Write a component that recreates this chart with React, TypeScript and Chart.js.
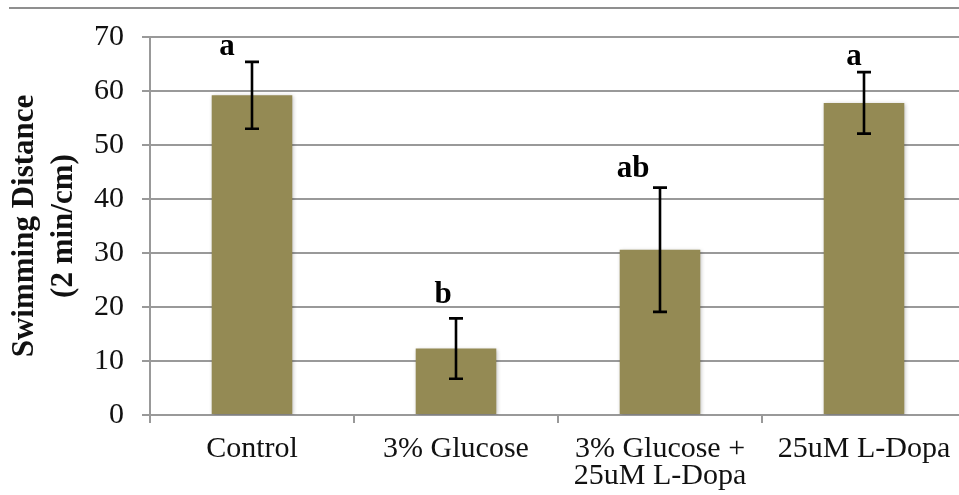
import React, { useEffect, useRef } from "react";
import { Chart, registerables } from "chart.js";

Chart.register(...registerables);

// ---- data ----
const categories = ["Control", "3% Glucose", "3% Glucose +\n25uM L-Dopa", "25uM L-Dopa"];
const means = [59.2, 12.3, 30.6, 57.8];
const errors = [6.2, 5.6, 11.5, 5.7];
const letters = ["a", "b", "ab", "a"];
const yMin = 0;
const yMax = 70;
const yStep = 10;
const yTitle = ["Swimming Distance", "(2 min/cm)"];

// ---- label placement (pixels) ----
const letterDx = [-25, -13, -27, -10];
const letterGap = [7, 15, 11, 7];

const FONT = "'Liberation Serif', 'Times New Roman', serif";
const GRID = "#999999";
const BAR = "#948A54";

const overlayPlugin = {
  id: "overlay",
  beforeDraw(chart: any) {
    const ctx = chart.ctx;
    ctx.save();
    ctx.fillStyle = "#8f8f8f";
    ctx.fillRect(9, 7, chart.width, 2);
    ctx.restore();
  },
  beforeDatasetsDraw(chart: any) {
    const ctx = chart.ctx;
    ctx.save();
    ctx.shadowColor = "rgba(0,0,0,0.28)";
    ctx.shadowBlur = 4;
    ctx.shadowOffsetX = 1;
    ctx.shadowOffsetY = 1;
  },
  afterDatasetsDraw(chart: any) {
    const ctx = chart.ctx;
    ctx.restore();
    const meta = chart.getDatasetMeta(0);
    const ys = chart.scales.y;
    ctx.save();
    ctx.strokeStyle = "#000";
    ctx.lineWidth = 2.6;
    ctx.fillStyle = "#000";
    ctx.font = `bold 31px ${FONT}`;
    ctx.textAlign = "center";
    ctx.textBaseline = "alphabetic";
    meta.data.forEach((bar: any, i: number) => {
      const x = bar.x;
      const top = ys.getPixelForValue(means[i] + errors[i]);
      const bot = ys.getPixelForValue(means[i] - errors[i]);
      ctx.beginPath();
      ctx.moveTo(x, top);
      ctx.lineTo(x, bot);
      ctx.moveTo(x - 7, top);
      ctx.lineTo(x + 7, top);
      ctx.moveTo(x - 7, bot);
      ctx.lineTo(x + 7, bot);
      ctx.stroke();
      ctx.fillText(letters[i], x + letterDx[i], top - letterGap[i]);
    });
    ctx.restore();
  },
};

export default function App() {
  const ref = useRef<HTMLCanvasElement>(null);

  useEffect(() => {
    if (!ref.current) return;
    const chart = new Chart(ref.current, {
      type: "bar",
      data: {
        labels: categories.map((c) => c.split("\n")),
        datasets: [
          {
            data: means,
            backgroundColor: BAR,
            borderWidth: 0,
            categoryPercentage: 1,
            barPercentage: 0.395,
          },
        ],
      },
      options: {
        responsive: false,
        animation: false,
        devicePixelRatio: 1,
        layout: { padding: { top: 37, left: 0, right: 0, bottom: 0 } },
        plugins: {
          legend: { display: false },
          tooltip: { enabled: false },
        },
        scales: {
          x: {
            offset: true,
            grid: {
              display: true,
              drawOnChartArea: false,
              drawTicks: true,
              tickLength: 8,
              color: GRID,
              lineWidth: 2,
              offset: true,
            },
            border: { display: true, color: GRID, width: 2 },
            ticks: {
              font: { family: FONT, size: 30, lineHeight: 0.92 },
              color: "#111",
              padding: 12,
              maxRotation: 0,
              autoSkip: false,
            },
            afterFit: (s: any) => {
              s.height = 80;
            },
          },
          y: {
            min: yMin,
            max: yMax,
            ticks: {
              stepSize: yStep,
              font: { family: FONT, size: 30 },
              color: "#111",
              padding: 18,
            },
            grid: { color: GRID, lineWidth: 2, tickLength: 8 },
            border: { display: true, color: GRID, width: 2 },
            title: {
              display: true,
              text: yTitle,
              font: { family: FONT, size: 31, weight: "bold", lineHeight: 1.25 },
              color: "#111",
              padding: { top: 6, bottom: 0 },
            },
            afterFit: (s: any) => {
              s.width = 150;
            },
          },
        },
      },
      plugins: [overlayPlugin],
    } as any);
    return () => chart.destroy();
  }, []);

  return (
    <div
      style={{
        position: "fixed",
        left: 0,
        top: 0,
        width: 959,
        height: 495,
        overflow: "hidden",
        background: "#fff",
      }}
    >
      <canvas ref={ref} width={966} height={495} style={{ width: 966, height: 495, display: "block" }} />
    </div>
  );
}
